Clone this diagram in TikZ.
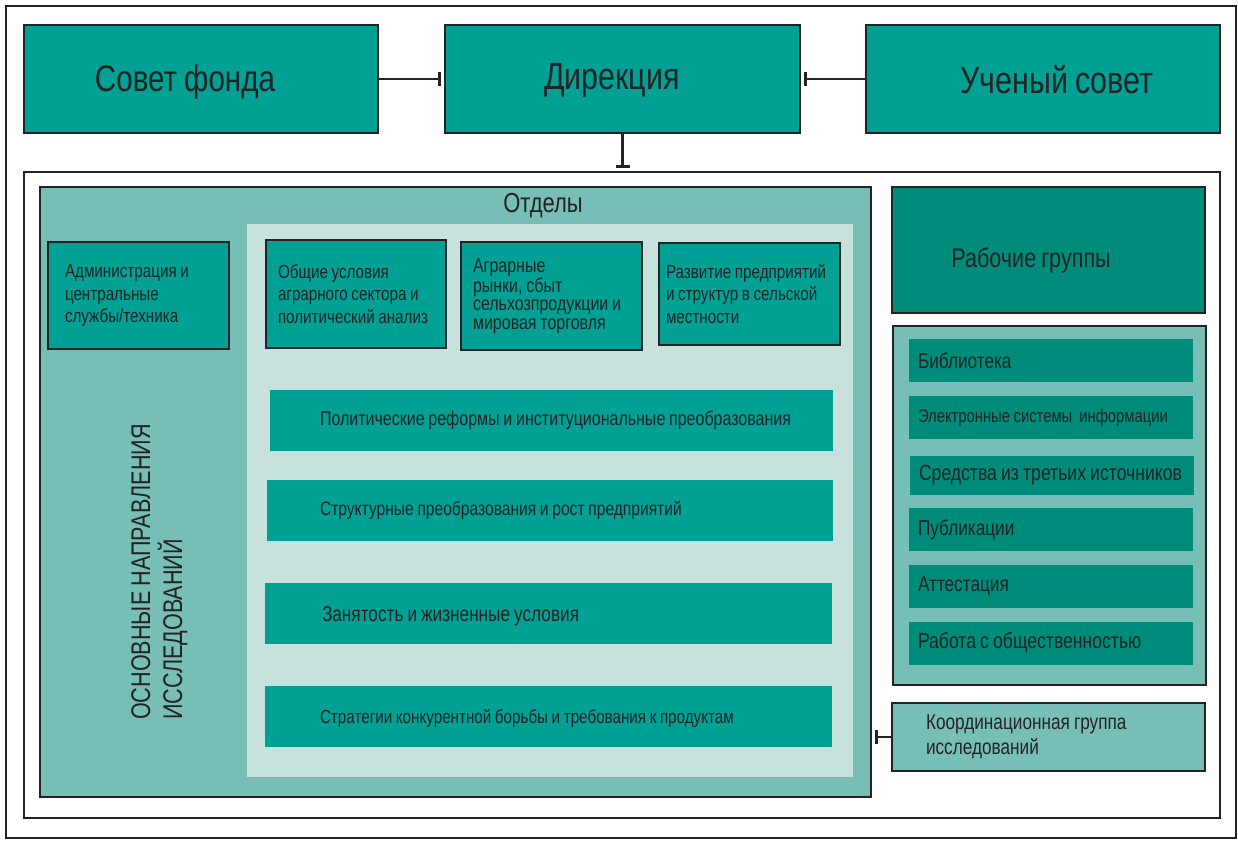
\documentclass[tikz,border=0pt]{standalone}
\usepackage{fontspec}
\setmainfont{Liberation Sans}[FakeStretch=0.8, WordSpace=0.85]
\usetikzlibrary{arrows.meta}

\definecolor{tealmain}{RGB}{0,160,148}
\definecolor{tealdark}{RGB}{0,140,122}
\definecolor{tealmid}{RGB}{119,191,182}
\definecolor{teallight}{RGB}{199,225,221}
\definecolor{frame}{RGB}{35,35,35}
\definecolor{ink}{RGB}{35,35,35}

\newcommand{\fsz}[2]{\fontsize{#1}{#2}\selectfont}

\tikzset{
  box/.style={draw=frame, line width=2.5pt, inner sep=0pt, text=ink},
  topbox/.style={box, fill=tealmain, minimum height=108pt},
  toplabel/.style={text=ink, inner sep=0pt, font=\fsz{38}{42}},
  deptbox/.style={box, fill=tealmain, align=flush left, font=\fsz{19}{22.5}},
  mainline/.style={fill=tealmain, inner sep=0pt, minimum height=61pt},
  mainlabel/.style={anchor=west, inner sep=0pt, text=ink, font=\fsz{20}{24}},
  service/.style={fill=tealdark, inner ysep=0pt, inner xsep=9pt, align=flush left, text=ink,
    text width=266pt, minimum height=43pt, font=\fsz{21.5}{25}},
  tee/.style={line width=2.5pt, draw=frame, shorten >=3pt,
    -{Bar[width=14pt,line width=2.5pt]}}
}

\begin{document}
\begin{tikzpicture}[x=1pt,y=-1pt]
  \useasboundingbox (0,0) rectangle (1238,840);
  % outer frame
  \draw [line width=2pt, draw=frame] (6,6) rectangle (1236,838);

  % top row
  \node [topbox, minimum width=354pt] (sovet) at (201,79) {};
  \node [toplabel, font=\fsz{37}{42}] (sovetlbl) at (185,82) {Совет фонда};
  \node [topbox, minimum width=355pt] (direk) at (622.5,79) {};
  \node [toplabel] (direklbl) at (612,80) {Дирекция};
  \node [topbox, minimum width=354pt] (uchen) at (1043,79) {};
  \node [toplabel] (uchenlbl) at (1057,80) {Ученый совет};

  % inner frame and departments
  \node [box, fill=white, minimum width=1196pt, minimum height=646pt] (inner) at (622,495) {};
  \node [box, fill=tealmid, minimum width=831pt, minimum height=610pt] (otdely) at (455.5,492) {};
  \node [text=ink, font=\fsz{27.5}{30}] (otdelytitle) at (543,206) {Отделы};
  \node [fill=teallight, inner sep=0pt, minimum width=606pt, minimum height=553pt] (panel) at (550,500.5) {};

  % department boxes
  \node [deptbox, inner xsep=17pt, text width=147pt, minimum height=107pt] (admin) at (138.5,295.5)
    {Администрация и\\центральные\\службы/техника};
  \node [deptbox, inner xsep=12pt, text width=156pt, minimum height=108pt] (obshch) at (356,294)
    {Общие условия\\аграрного сектора и\\политический анализ};
  \node [deptbox, inner xsep=12pt, text width=157pt, minimum height=108pt,
    font=\fsz{20}{18.6}] (agrar) at (551.5,296)
    {Аграрные\\рынки, сбыт\\сельхозпродукции и\\мировая торговля};
  \node [deptbox, inner xsep=7pt, text width=167pt, minimum height=102pt] (razv) at (749.5,294)
    {Развитие предприятий\\и структур в сельской\\местности};

  % main research lines
  \node [mainline, minimum width=563pt] (polit) at (551.5,420.5) {};
  \node [mainlabel] (polittxt) at ([xshift=50pt]polit.west) {Политические реформы и институциональные преобразования};
  \node [mainline, minimum width=566pt] (struct) at (550,510.5) {};
  \node [mainlabel, font=\fsz{19.5}{24}] (structtxt) at ([xshift=53pt]struct.west) {Структурные преобразования и рост предприятий};
  \node [mainline, minimum width=567pt] (zanyat) at (548.5,613.5) {};
  \node [mainlabel, font=\fsz{21.5}{24}] (zanyattxt) at ([xshift=57pt,yshift=-3pt]zanyat.west) {Занятость и жизненные условия};
  \node [mainline, minimum width=567pt] (strat) at (548.5,716.5) {};
  \node [mainlabel, font=\fsz{19}{24}] (strattxt) at ([xshift=55pt,yshift=-2pt]strat.west) {Стратегии конкурентной борьбы и требования к продуктам};

  % vertical label
  \node [rotate=90, anchor=north west, align=flush left, text=ink, inner sep=0pt,
    font=\fsz{27}{32}] (osnov) at (131,720)
    {ОСНОВНЫЕ НАПРАВЛЕНИЯ\\ИССЛЕДОВАНИЙ};

  % right column
  \node [box, fill=tealdark, minimum width=313pt, minimum height=126pt] (rabgr) at (1048.5,250) {};
  \node [text=ink, inner sep=0pt, font=\fsz{27}{30}] (rabgrlbl) at (1031,260) {Рабочие группы};
  \node [box, fill=tealmid, minimum width=313pt, minimum height=359pt] (services) at (1049.5,505.5) {};
  \node [service] (bibl) at (1051,360.5) {Библиотека};
  \node [service, font=\fsz{18.5}{20}] (elektr) at (1051,417.5) {Электронные системы\ \ информации};
  \node [service, minimum height=39pt, font=\fsz{22}{24}] (sredst) at (1052,475) {Средства из третьих источников};
  \node [service] (publ) at (1051,529.5) {Публикации};
  \node [service] (attest) at (1051,586.5) {Аттестация};
  \node [service, font=\fsz{22}{25}] (obshchest) at (1051,643) {Работа с общественностью};
  \node [box, fill=tealmid, inner xsep=34pt, text width=245pt, minimum height=68pt, align=flush left,
    font=\fsz{21.5}{25}] (koord) at (1048.5,737)
    {Координационная группа\\исследований};

  % connectors
  \draw [tee] (sovet) -- (direk);
  \draw [tee] (uchen) -- (direk);
  \draw [tee] (direk.south) -- (direk.south |- inner.north);
  \draw [tee] (koord.west) -- (koord.west -| otdely.east);
\end{tikzpicture}
\end{document}
